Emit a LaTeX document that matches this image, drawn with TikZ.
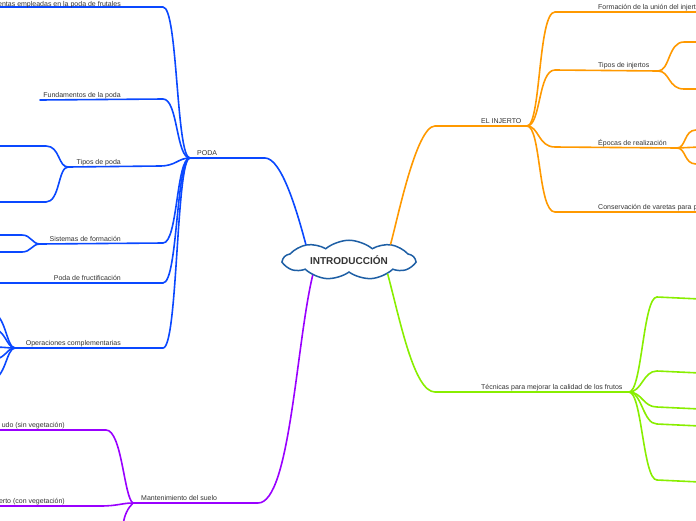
\documentclass[tikz,border=0pt]{standalone}
\usepackage{fontspec}
\setmainfont{Liberation Sans}
\usetikzlibrary{shapes.symbols}
\definecolor{cblue}{RGB}{10,72,255}
\definecolor{corange}{RGB}{255,153,0}
\definecolor{cgreen}{RGB}{136,238,0}
\definecolor{cpurple}{RGB}{153,0,255}
\definecolor{ccloud}{RGB}{30,95,165}
\definecolor{ctext}{RGB}{51,51,51}
\begin{document}
\begin{tikzpicture}[x=1pt,y=-1pt,
  br/.style={line width=1.6pt,line cap=round},
  lbl/.style={font=\fontsize{7}{8}\selectfont,text=ctext,inner sep=0pt},
  lblL/.style={lbl,anchor=base east},
  lblR/.style={lbl,anchor=base west}]
\useasboundingbox (0,0) rectangle (696,520);
\clip (0,0) rectangle (696,520);

% central cloud
\node[cloud,cloud puffs=9,cloud puff arc=80,aspect=4,draw=ccloud,line width=1.5pt,fill=white,
      minimum width=131pt,minimum height=32pt,inner sep=0pt,
      font=\bfseries\fontsize{10}{12}\selectfont,text=ctext] (C) at (349,260) {INTRODUCCIÓN};

% ---------------- PODA (blue) ----------------
\coordinate (P) at (190,158);
\coordinate (T) at (68,167);
\coordinate (S) at (40,244);
\coordinate (O) at (15,348);
\begin{scope}[br,cblue]
\draw (C.160) .. controls (298,215) and (282,158) .. (265,158) -- (P);
\draw (P) .. controls (176,158) and (178,7) .. (163,7) -- (-2,7);
\draw (P) .. controls (176,158) and (178,99) .. (163,99) -- (40,100);
\draw (P) .. controls (178,158) and (176,166) .. (160,166) -- (T);
\draw (T) .. controls (58,167) and (60,146) .. (46,146) -- (-2,146);
\draw (T) .. controls (58,167) and (60,202) .. (46,202) -- (-2,202);
\draw (P) .. controls (176,158) and (178,243) .. (163,243) -- (S);
\draw (S) .. controls (32,244) and (31,235) .. (22,235) -- (-2,235);
\draw (S) .. controls (32,244) and (31,252) .. (22,252) -- (-2,252);
\draw (P) .. controls (176,158) and (178,283) .. (163,283) -- (-2,283);
\draw (P) .. controls (176,158) and (178,348) .. (163,348) -- (O);
\draw (O) .. controls (6,348) and (6,312) .. (-10,312);
\draw (O) .. controls (6,348) and (6,328) .. (-10,328);
\draw (O) .. controls (6,348) and (6,347) .. (-10,347);
\draw (O) .. controls (6,348) and (6,360) .. (-10,360);
\draw (O) .. controls (6,348) and (6,380) .. (-10,380);
\end{scope}
\node[lblR] (poda) at (197,155.5) {PODA};
\node[lblL] (herr) at (121,6) {entas empleadas en la poda de frutales};
\node[lblL] (fund) at (121,97.5) {Fundamentos de la poda};
\node[lblL] (tipos) at (121,164.5) {Tipos de poda};
\node[lblL] (sist) at (121,241.5) {Sistemas de formación};
\node[lblL] (fruc) at (121,280.5) {Poda de fructificación};
\node[lblL] (oper) at (121,345.5) {Operaciones complementarias};

% ---------------- Mantenimiento (purple) ----------------
\coordinate (M) at (133,503);
\begin{scope}[br,cpurple]
\draw (C.203) .. controls (296,345) and (290,503) .. (258,503) -- (M);
\draw (M) .. controls (124,498) and (122,430) .. (106,430) -- (-2,430);
\draw (M) .. controls (122,503) and (118,506) .. (100,506) -- (-2,506);
\draw (M) .. controls (128,508) and (124,515) .. (123,526);
\end{scope}
\node[lblR] (mant) at (141,500.5) {Mantenimiento del suelo};
\node[lblL] (sin) at (65,427) {udo (sin vegetación)};
\node[lblL] (con) at (65,503.5) {erto (con vegetación)};

% ---------------- EL INJERTO (orange) ----------------
\coordinate (I) at (527,126);
\coordinate (TI) at (658,71);
\coordinate (E) at (677,148);
\begin{scope}[br,corange]
\draw (C.21) .. controls (397,222) and (416,126) .. (435,126) -- (I);
\draw (I) .. controls (541,126) and (538,12) .. (555,12) -- (700,12);
\draw (I) .. controls (541,126) and (538,70) .. (555,70) -- (TI);
\draw (TI) .. controls (670,71) and (668,42) .. (684,42) -- (700,42);
\draw (TI) .. controls (670,71) and (668,89) .. (684,89) -- (700,89);
\draw (I) .. controls (539,126) and (538,147) .. (555,147) -- (E);
\draw (E) .. controls (686,148) and (684,130) .. (696,130) -- (700,130);
\draw (E) -- (700,147);
\draw (E) .. controls (686,148) and (684,164) .. (696,164) -- (700,164);
\draw (I) .. controls (541,126) and (538,212) .. (555,212) -- (700,212);
\end{scope}
\node[lblR] (inj) at (481,123) {EL INJERTO};
\node[lblR] (form) at (598,9) {Formación de la unión del injerto};
\node[lblR] (tinj) at (598,67.5) {Tipos de injertos};
\node[lblR] (epo) at (598,145) {Épocas de realización};
\node[lblR] (cons) at (598,209.5) {Conservación de varetas para p};

% ---------------- Técnicas (green) ----------------
\coordinate (G) at (629,392);
\begin{scope}[br,cgreen]
\draw (C.340) .. controls (400,320) and (414,392) .. (435,392) -- (G);
\draw (G) .. controls (642,392) and (643,297) .. (657,297) -- (700,299);
\draw (G) .. controls (642,392) and (643,371) .. (657,371) -- (700,373);
\draw (G) .. controls (642,392) and (643,407) .. (657,407) -- (700,409);
\draw (G) .. controls (642,392) and (643,424) .. (657,424) -- (700,426);
\draw (G) .. controls (642,392) and (643,480) .. (657,480) -- (700,482);
\end{scope}
\node[lblR] (tec) at (481,389) {Técnicas para mejorar la calidad de los frutos};
\end{tikzpicture}
\end{document}
